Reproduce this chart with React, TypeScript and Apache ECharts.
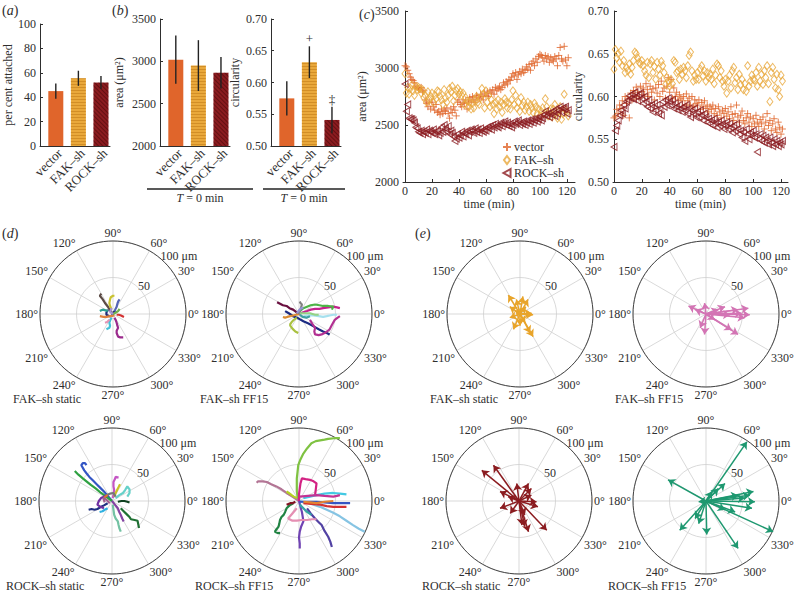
import React, { useEffect, useRef } from 'react';
import * as echarts from 'echarts';

// ---------- data ----------
const groups = ['vector', 'FAK\u2013sh', 'ROCK\u2013sh'];
const groupPos = [1, 2, 3];
const attachedMean = [45, 55.5, 52];
const attachedErr = [6.2, 6.2, 5.3];
const areaMean = [3020, 2950, 2865];
const areaErr = [285, 300, 185];
const circMean = [0.575, 0.632, 0.541];
const circErr = [0.027, 0.025, 0.021];
const circSig = ['', '+', '\u2021'];
const timeTicks = [0, 20, 40, 60, 80, 100, 120];

const times = [
  0, 1, 2, 3, 4, 5, 6, 7, 8, 9, 10, 11, 12, 13, 14, 15, 16, 17, 18, 19,
  20, 21, 22, 23, 24, 25, 26, 27, 28, 29, 30, 31, 32, 33, 34, 35, 36, 37, 38, 39,
  40, 41, 42, 43, 44, 45, 46, 47, 48, 49, 50, 51, 52, 53, 54, 55, 56, 57, 58, 59,
  60, 61, 62, 63, 64, 65, 66, 67, 68, 69, 70, 71, 72, 73, 74, 75, 76, 77, 78, 79,
  80, 81, 82, 83, 84, 85, 86, 87, 88, 89, 90, 91, 92, 93, 94, 95, 96, 97, 98, 99,
  100, 101, 102, 103, 104, 105, 106, 107, 108, 109, 110, 111, 112, 113, 114, 115, 116, 117, 118, 119,
  120, 121,
];

const vectorArea = [
  3020, 3010, 2980, 2950, 2920, 2900, 2890, 2870, 2840, 2830,
  2820, 2810, 2830, 2790, 2800, 2720, 2690, 2660, 2700, 2640,
  2700, 2660, 2630, 2680, 2610, 2620, 2590, 2640, 2600, 2630,
  2620, 2650, 2600, 2560, 2640, 2610, 2660, 2630, 2580, 2700,
  2720, 2680, 2660, 2700, 2690, 2720, 2640, 2700, 2740, 2710,
  2750, 2720, 2700, 2760, 2740, 2730, 2770, 2750, 2720, 2780,
  2760, 2790, 2750, 2800, 2780, 2810, 2770, 2830, 2800, 2820,
  2840, 2810, 2830, 2870, 2850, 2880, 2860, 2900, 2890, 2920,
  2950, 2930, 2960, 2900, 2940, 2970, 2950, 2990, 2960, 2980,
  3010, 2990, 3030, 2980, 3040, 3060, 3020, 3080, 3050, 3100,
  3120, 3110, 3090, 3060, 3110, 3080, 3100, 3050, 3090, 3070,
  3060, 3100, 3080, 3020, 3110, 3180, 3080, 3060, 3190, 3070,
  3020, 3090,
];
const fakArea = [
  2950, 2780, 2830, 2770, 2820, 2850, 2800, 2760, 2840, 2810,
  2830, 2820, 2780, 2810, 2740, 2760, 2700, 2790, 2720, 2750,
  2780, 2700, 2760, 2730, 2800, 2790, 2750, 2720, 2680, 2810,
  2740, 2700, 2760, 2820, 2790, 2840, 2710, 2760, 2800, 2820,
  2770, 2790, 2760, 2780, 2680, 2740, 2710, 2660, 2700, 2640,
  2690, 2650, 2720, 2750, 2700, 2680, 2740, 2820, 2770, 2650,
  2800, 2700, 2760, 2660, 2720, 2680, 2600, 2700, 2640, 2720,
  2660, 2700, 2610, 2680, 2730, 2700, 2650, 2690, 2640, 2720,
  2800, 2680, 2760, 2650, 2700, 2620, 2740, 2670, 2700, 2630,
  2660, 2700, 2620, 2680, 2650, 2610, 2690, 2660, 2600, 2640,
  2580, 2620, 2650, 2600, 2730, 2660, 2580, 2620, 2640, 2570,
  2640, 2680, 2600, 2560, 2620, 2660, 2550, 2600, 2770, 2630,
  2610, 2580,
];
const rockArea = [
  2860, 2620, 2680, 2560, 2550, 2550, 2540, 2520, 2480, 2470,
  2440, 2430, 2450, 2420, 2440, 2430, 2460, 2420, 2450, 2440,
  2430, 2460, 2420, 2440, 2450, 2410, 2430, 2480, 2440, 2500,
  2470, 2440, 2490, 2420, 2450, 2430, 2400, 2360, 2380, 2420,
  2390, 2410, 2440, 2400, 2430, 2420, 2450, 2410, 2440, 2460,
  2450, 2430, 2470, 2440, 2460, 2430, 2470, 2450, 2440, 2460,
  2450, 2480, 2470, 2490, 2460, 2500, 2480, 2510, 2490, 2480,
  2500, 2520, 2490, 2510, 2530, 2500, 2520, 2490, 2510, 2480,
  2500, 2530, 2510, 2520, 2540, 2500, 2520, 2510, 2530, 2500,
  2520, 2540, 2510, 2530, 2550, 2520, 2540, 2560, 2530, 2550,
  2570, 2540, 2560, 2590, 2620, 2580, 2600, 2570, 2610, 2590,
  2620, 2580, 2640, 2600, 2630, 2660, 2610, 2650, 2640, 2660,
  2600, 2630,
];
const vectorCirc = [
  0.575, 0.577, 0.585, 0.580, 0.590, 0.586, 0.595, 0.578, 0.600, 0.592,
  0.598, 0.575, 0.604, 0.596, 0.607, 0.600, 0.611, 0.605, 0.598, 0.612,
  0.606, 0.610, 0.602, 0.615, 0.608, 0.600, 0.612, 0.605, 0.609, 0.596,
  0.610, 0.604, 0.614, 0.600, 0.618, 0.606, 0.610, 0.598, 0.612, 0.622,
  0.605, 0.620, 0.598, 0.610, 0.600, 0.605, 0.596, 0.602, 0.598, 0.595,
  0.600, 0.590, 0.603, 0.595, 0.598, 0.590, 0.600, 0.588, 0.596, 0.592,
  0.590, 0.596, 0.585, 0.593, 0.588, 0.595, 0.586, 0.590, 0.582, 0.588,
  0.585, 0.590, 0.580, 0.586, 0.578, 0.588, 0.582, 0.575, 0.584, 0.580,
  0.586, 0.577, 0.582, 0.574, 0.588, 0.579, 0.572, 0.580, 0.590, 0.576,
  0.570, 0.578, 0.583, 0.572, 0.568, 0.575, 0.580, 0.570, 0.576, 0.565,
  0.574, 0.568, 0.578, 0.570, 0.565, 0.573, 0.568, 0.576, 0.562, 0.570,
  0.580, 0.566, 0.572, 0.560, 0.568, 0.574, 0.562, 0.558, 0.570, 0.564,
  0.556, 0.562,
];
const fakCirc = [
  0.632, 0.655, 0.645, 0.650, 0.640, 0.653, 0.636, 0.642, 0.628, 0.634,
  0.630, 0.638, 0.626, 0.634, 0.642, 0.652, 0.650, 0.645, 0.640, 0.638,
  0.642, 0.636, 0.630, 0.625, 0.640, 0.622, 0.638, 0.642, 0.628, 0.635,
  0.620, 0.640, 0.632, 0.625, 0.641, 0.636, 0.628, 0.614, 0.622, 0.618,
  0.612, 0.620, 0.615, 0.642, 0.640, 0.628, 0.630, 0.620, 0.632, 0.626,
  0.634, 0.630, 0.622, 0.636, 0.648, 0.652, 0.630, 0.618, 0.625, 0.620,
  0.628, 0.620, 0.632, 0.636, 0.624, 0.630, 0.618, 0.628, 0.622, 0.626,
  0.620, 0.632, 0.615, 0.625, 0.638, 0.636, 0.622, 0.630, 0.618, 0.612,
  0.620, 0.604, 0.618, 0.625, 0.610, 0.630, 0.634, 0.616, 0.622, 0.608,
  0.626, 0.614, 0.620, 0.608, 0.615, 0.606, 0.636, 0.612, 0.618, 0.625,
  0.620, 0.619, 0.628, 0.612, 0.634, 0.618, 0.626, 0.614, 0.630, 0.622,
  0.636, 0.615, 0.594, 0.628, 0.634, 0.620, 0.610, 0.626, 0.608, 0.600,
  0.625, 0.618,
];
const rockCirc = [
  0.541, 0.560, 0.566, 0.572, 0.578, 0.584, 0.580, 0.590, 0.586, 0.594,
  0.596, 0.601, 0.598, 0.603, 0.597, 0.605, 0.600, 0.595, 0.602, 0.604,
  0.598, 0.592, 0.600, 0.594, 0.588, 0.596, 0.586, 0.590, 0.582, 0.592,
  0.584, 0.590, 0.580, 0.586, 0.578, 0.594, 0.588, 0.596, 0.590, 0.598,
  0.594, 0.590, 0.596, 0.586, 0.592, 0.588, 0.584, 0.590, 0.586, 0.582,
  0.588, 0.584, 0.590, 0.580, 0.586, 0.576, 0.584, 0.580, 0.586, 0.576,
  0.582, 0.576, 0.584, 0.578, 0.572, 0.580, 0.576, 0.570, 0.574, 0.568,
  0.572, 0.566, 0.574, 0.570, 0.564, 0.570, 0.566, 0.572, 0.568, 0.562,
  0.566, 0.570, 0.562, 0.568, 0.564, 0.558, 0.566, 0.560, 0.568, 0.562,
  0.556, 0.560, 0.552, 0.558, 0.548, 0.562, 0.556, 0.550, 0.558, 0.554,
  0.560, 0.552, 0.556, 0.535, 0.550, 0.556, 0.548, 0.554, 0.546, 0.552,
  0.548, 0.544, 0.552, 0.546, 0.542, 0.550, 0.544, 0.548, 0.542, 0.546,
  0.544, 0.548,
];

// trajectories (x, y in µm)
const fakStaticTracks = [
  [[0, 0], [-4, 5], [-7, 10], [-11, 15], [-14, 20], [-18, 25], [-16, 28]],
  [[-2, 6], [-4, 11], [-5, 15], [-4, 20], [-3, 23], [0, 25], [2, 25]],
  [[2, 1], [3, 6], [5, 10], [6, 14], [7, 17], [9, 20]],
  [[-7, 6], [-9, 2], [-9, -1], [-5, -3], [-2, -3], [2, 4]],
  [[2, -5], [4, -9], [5, -12], [6, -16], [7, -19], [5, -23], [5, -26], [7, -31], [10, -32], [14, -32]],
  [[-2, -5], [-4, -9], [-5, -12], [-4, -16], [-5, -19], [-7, -20], [-9, -21]],
  [[-18, -3], [-13, -4], [-9, -4], [-4, -3], [2, -2]],
  [[-18, 4], [-16, 5], [-14, 6], [-10, 5], [-7, 4]],
  [[5, -1], [8, -1], [11, -2], [13, -3], [15, -4]],
  [[-5, -8], [-7, -10], [-8, -11], [-11, -12]],
  [[0, 0], [4, 2], [7, 4], [9, 7]],
  [[0, 0], [-4, 3], [-2, 8]],
];
const fakFF15Tracks = [
  [[0, 0], [-4, 3], [-8, 6], [-13, 8], [-17, 11], [-22, 12], [-26, 14], [-30, 16]],
  [[0, 0], [5, 2], [11, 4], [16, 6], [22, 7], [28, 7], [33, 8], [40, 9], [47, 10], [52, 9], [56, 8]],
  [[1, 4], [6, 8], [11, 10], [16, 12], [22, 13], [28, 12], [33, 11], [40, 11], [47, 10], [45, 6]],
  [[-19, 4], [-14, 1], [-8, -3], [-1, -6], [6, -10], [13, -13], [20, -17], [27, -21], [33, -24], [38, -26], [42, -28]],
  [[15, -8], [18, -13], [22, -19], [21, -24], [22, -28], [27, -29], [31, -28], [37, -25], [42, -21], [45, -15], [49, -8], [53, -5], [56, -3]],
  [[6, -3], [13, -2], [20, -2], [27, -3], [33, -4], [38, -3], [42, -2], [47, -1], [52, -1]],
  [[0, 0], [-4, -1], [-8, -2], [-12, -3], [-16, -4], [-19, -5], [-22, -4]],
  [[-3, -5], [-7, -8], [-10, -11], [-12, -14], [-12, -16], [-9, -20], [-5, -24], [-3, -25], [-1, -26]],
  [[1, -1], [5, -4], [10, -5], [15, -3]],
  [[0, 0], [2, 6], [4, 13], [2, 15], [1, 17]],
  [[1, 1], [8, 1], [15, 1], [22, -1], [27, -1]],
  [[-3, 1], [0, 5], [3, 8], [6, 8]],
];
const rockStaticTracks = [
  [[0, 0], [-5, 6], [-11, 13], [-16, 18], [-20, 22], [-26, 28], [-31, 33], [-35, 38], [-38, 42], [-42, 49], [-40, 52], [-37, 52], [-35, 49]],
  [[0, 0], [-8, 6], [-15, 11], [-22, 17], [-29, 22], [-35, 27], [-40, 31], [-46, 36], [-51, 41]],
  [[1, 4], [2, 9], [3, 15], [2, 20], [2, 26], [4, 30], [5, 33], [9, 32]],
  [[3, 6], [5, 11], [7, 15], [9, 19], [11, 23]],
  [[5, 4], [10, 8], [15, 11], [18, 15], [21, 20], [24, 16], [24, 11], [21, 6]],
  [[12, -10], [16, -14], [21, -19], [24, -22], [26, -25], [31, -26], [35, -27], [36, -32], [37, -37]],
  [[1, -5], [2, -12], [3, -19], [5, -24], [8, -28], [9, -33], [10, -37], [12, -42]],
  [[-6, -3], [-11, -6], [-15, -8], [-20, -11], [-24, -12], [-28, -11], [-32, -12]],
  [[0, 0], [4, -5], [8, -10], [10, -15], [12, -19], [14, -24], [16, -28]],
  [[-6, 8], [-11, 6], [-15, 4], [-18, 0], [-20, -5], [-16, -8], [-11, -10]],
  [[-8, 8], [-3, 10], [2, 11], [5, 6]],
  [[8, -1], [13, 0], [17, 0], [21, -1], [24, -2]],
  [[-6, -10], [-10, -12], [-13, -14], [-17, -15]],
  [[-6, 8], [-9, 6], [-11, 4]],
  [[-3, -3], [-8, 2], [-12, 4], [-10, -2]],
];
const rockFF15Tracks = [
  [[0, 0], [-2, 6], [-3, 13], [-3, 22], [-3, 31], [-2, 40], [-1, 49], [2, 57], [6, 65], [11, 72], [17, 79], [23, 82], [29, 83], [35, 84], [40, 85], [48, 86], [56, 86]],
  [[0, 0], [10, -2], [20, -5], [29, -8], [38, -12], [47, -16], [56, -21], [65, -27], [74, -33], [82, -38], [90, -42]],
  [[0, 0], [-9, 6], [-17, 11], [-24, 16], [-31, 20], [-38, 23], [-44, 26], [-50, 27], [-56, 27], [-58, 25]],
  [[-8, -3], [-13, -6], [-17, -10], [-19, -15], [-21, -19], [-24, -22], [-26, -26], [-27, -31], [-28, -35], [-31, -39], [-33, -42], [-29, -44], [-26, -44]],
  [[0, 0], [2, -8], [4, -15], [5, -21], [6, -28], [3, -35], [1, -42], [0, -50], [1, -58], [1, -65]],
  [[11, -10], [16, -17], [22, -24], [27, -29], [31, -33], [35, -41], [40, -49], [43, -56], [45, -63]],
  [[0, 0], [0, 9], [1, 17], [2, 24], [4, 31], [9, 30], [15, 29], [20, 27], [24, 24], [23, 16], [22, 8]],
  [[6, -3], [17, -4], [29, -5], [38, -7], [47, -8], [56, -8], [65, -8]],
  [[1, -1], [12, -1], [24, -1], [35, -2], [47, -3], [58, -3], [70, -3]],
  [[-3, -10], [-9, -17], [-15, -24], [-9, -27], [-3, -27], [4, -26], [11, -26], [18, -25], [24, -25]],
  [[1, -5], [6, -10], [11, -15], [17, -19]],
  [[-3, 4], [-7, 6], [-10, 8], [-14, 11], [-17, 13]],
  [[-5, -1], [-9, -3], [-12, -3], [-17, -5]],
  [[6, 4], [15, 6], [24, 8], [35, 10], [47, 11], [56, 10], [65, 9]],
  [[6, -1], [15, -2], [24, -3], [35, -1], [47, 0]],
  [[1, 6], [12, 7], [24, 8], [35, 7], [47, 6], [52, 7], [56, 8]],
];

// net displacement arrows (x, y in µm)
const fakStaticArrows = [
  [-16, 26], [4, 24], [11, 20], [16, 1], [18, -31], [14, -26], [-14, -5], [-9, -21],
  [0, -16], [-14, 10], [8, 10], [-7, 5], [18, -1], [-5, 20], [7, -12],
];
const fakFF15Arrows = [
  [-24, 11], [-2, 15], [-2, -28], [-8, -19], [44, -28], [35, -22], [58, 8], [60, -1],
  [53, -5], [44, 6], [33, -1], [26, 10], [17, 6], [-15, 6], [49, 1], [12, -8],
];
const rockStaticArrows = [
  [-51, 42], [-35, 49], [-26, 13], [13, 24], [17, 8], [24, -1], [13, -42], [8, -35],
  [38, -40], [-3, 24], [-15, 6], [-26, -10], [-12, -17], [26, -8], [8, -19], [17, 17], [4, -33],
];
const rockFF15Arrows = [
  [56, 81], [92, -42], [-52, 29], [-36, -40], [44, -65], [1, -46], [-10, -31], [65, 13],
  [67, -1], [63, -10], [53, 4], [44, 8], [26, 24], [17, 17], [40, -15], [26, -12],
  [-10, -1], [8, 13], [-15, -24], [60, 8],
];

const captions = [
  'FAK\u2013sh static', 'FAK\u2013sh FF15', 'ROCK\u2013sh static', 'ROCK\u2013sh FF15',
  'FAK\u2013sh static', 'FAK\u2013sh FF15', 'ROCK\u2013sh static', 'ROCK\u2013sh FF15',
];
const angleLabelSuffix = '\u00b0';

// ---------- styles / layout ----------
const FF = '"Liberation Serif", "DejaVu Serif", serif';
const TXT = '#2e2e2e';
const C_VEC = '#e0652b';
const C_FAK = '#e9a83b';
const C_ROCK = '#8b1c20';
const C_FAK_ARROW = '#e8a42a';
const C_PINK = '#d374b4';
const C_GREEN = '#1e9870';

const trackColorSets = [
  ['#5b4a44', '#c9c232', '#5565b5', '#1f2a7a', '#9b2a8c', '#43c1d8', '#e0823f', '#2fa08f', '#d33232', '#e394b4', '#6fb24f', '#a593d3'],
  ['#6a1040', '#c4228c', '#4db346', '#1b2b82', '#b23092', '#a6e0ee', '#d98b33', '#a9c140', '#3ea1a1', '#808080', '#94d385', '#9393d3'],
  ['#3355c4', '#2fa142', '#c455c4', '#c9c124', '#66d1c9', '#1f7033', '#73c2a3', '#203182', '#8343a3', '#7030a2', '#767676', '#0f4221', '#31b1e0', '#e3712f', '#a06090'],
  ['#7fc242', '#86c4e3', '#b37595', '#218343', '#7043b3', '#5242a3', '#d32283', '#d33232', '#3355c4', '#e58fb3', '#33a3a3', '#b3d322', '#831222', '#43c9e3', '#e38333', '#c33393'],
];

const R = 73;
const polarLayout = [
  { cx: 113, cy: 314, capX: 13 },
  { cx: 299, cy: 314, capX: 200 },
  { cx: 112, cy: 501, capX: 6 },
  { cx: 299, cy: 501, capX: 195 },
  { cx: 520, cy: 314, capX: 430 },
  { cx: 706, cy: 314, capX: 615 },
  { cx: 519, cy: 501, capX: 422 },
  { cx: 706, cy: 501, capX: 608 },
];

const textStyle = { fontFamily: FF, fontSize: 12, color: TXT, fontWeight: 'normal' as const };

const barStyles = [
  { color: C_VEC },
  {
    color: C_FAK,
    decal: { symbol: 'rect', symbolSize: 1, color: 'rgba(190,120,20,0.55)', dashArrayX: [1, 0], dashArrayY: [1, 2], rotation: 0 },
  },
  {
    color: C_ROCK,
    decal: { symbol: 'rect', symbolSize: 1, color: 'rgba(50,0,0,0.45)', dashArrayX: [1, 0], dashArrayY: [1, 2], rotation: Math.PI / 4 },
  },
];

function barXAxis(gridIndex: number) {
  return {
    gridIndex,
    type: 'value',
    min: 0.3,
    max: 3.4,
    axisLine: { show: true, lineStyle: { color: TXT, width: 1 } },
    splitLine: { show: false },
    axisTick: { show: false },
    axisLabel: { show: false },
  };
}

function valYAxis(gridIndex: number, min: number, max: number, interval: number, name: string, gap: number, digits: number) {
  return {
    gridIndex,
    type: 'value',
    min,
    max,
    interval,
    name,
    nameLocation: 'middle',
    nameGap: gap,
    nameTextStyle: { ...textStyle },
    axisLine: { show: true, lineStyle: { color: TXT, width: 1 } },
    axisTick: { show: true, inside: true, length: 3, lineStyle: { color: TXT } },
    splitLine: { show: false },
    axisLabel: { ...textStyle, margin: 4, formatter: (v: number) => v.toFixed(digits) },
  };
}

function timeXAxis(gridIndex: number, min: number, max: number) {
  return {
    gridIndex,
    type: 'value',
    min,
    max,
    name: 'time (min)',
    nameLocation: 'middle',
    nameGap: 13,
    nameTextStyle: { ...textStyle },
    axisLine: { show: true, lineStyle: { color: TXT, width: 1 } },
    splitLine: { show: false },
    axisTick: { show: true, inside: true, length: 3, customValues: timeTicks, lineStyle: { color: TXT } },
    axisLabel: { ...textStyle, margin: 3, customValues: timeTicks },
  };
}

function barSeries(axis: number, mean: number[]) {
  return {
    type: 'bar',
    xAxisIndex: axis,
    yAxisIndex: axis,
    barWidth: 15,
    silent: true,
    data: groupPos.map((p, i) => ({ value: [p, mean[i]], itemStyle: barStyles[i] })),
  };
}

// error bars + significance marks + rotated category labels
function errSeries(axis: number, yMin: number, mean: number[], err: number[], sig?: string[]) {
  return {
    type: 'custom',
    xAxisIndex: axis,
    yAxisIndex: axis,
    silent: true,
    clip: false,
    z: 5,
    encode: { x: 0, y: 1 },
    data: groupPos.map((p, i) => [p, mean[i], err[i], i]),
    renderItem: (params: any, api: any) => {
      const x = api.value(0);
      const m = api.value(1);
      const e = api.value(2);
      const idx = api.value(3);
      const a = api.coord([x, m + e]);
      const b = api.coord([x, m - e]);
      const base = api.coord([x, yMin]);
      const children: any[] = [
        { type: 'line', shape: { x1: a[0], y1: a[1], x2: b[0], y2: b[1] }, style: { stroke: '#222', lineWidth: 1.4 } },
        {
          type: 'group',
          x: base[0] + 4,
          y: base[1] + 5,
          rotation: Math.PI / 4,
          children: [
            {
              type: 'text',
              x: 0,
              y: 0,
              style: { text: groups[idx], align: 'right', verticalAlign: 'middle', fill: TXT, font: `13px ${FF}` },
            },
          ],
        },
      ];
      if (sig && sig[idx]) {
        children.push({
          type: 'text',
          x: a[0],
          y: a[1] - 1,
          style: { text: sig[idx], align: 'center', verticalAlign: 'bottom', fill: TXT, font: `13px ${FF}` },
        });
      }
      return { type: 'group', children };
    },
  };
}

const markerDefs = [
  { symbol: 'path://M5,0L5,10M0,5L10,5', size: 7, color: C_VEC },
  { symbol: 'path://M3,0L6,4L3,8L0,4Z', size: [6, 8], color: C_FAK },
  { symbol: 'path://M8,0L0,4.5L8,9Z', size: [6, 7], color: C_ROCK },
];

function scatterSeries(axis: number, gi: number, values: number[]) {
  const m = markerDefs[gi];
  return {
    type: 'scatter',
    name: groups[gi],
    xAxisIndex: axis,
    yAxisIndex: axis,
    symbol: m.symbol,
    symbolSize: m.size,
    silent: true,
    itemStyle: { color: 'rgba(0,0,0,0)', borderColor: m.color, borderWidth: 1 },
    data: times.map((t, i) => [t, values[i]]),
  };
}

const App: React.FC = () => {
  const ref = useRef<HTMLDivElement>(null);

  useEffect(() => {
    if (!ref.current) return;
    const chart = echarts.init(ref.current, undefined, { renderer: 'svg' });

    const grids: any[] = [
      { left: 40, top: 24, width: 70, height: 122 },
      { left: 160, top: 19, width: 70, height: 127 },
      { left: 271, top: 19, width: 70, height: 127 },
      { left: 403, top: 11, width: 172, height: 171 },
      { left: 613, top: 11, width: 175, height: 171 },
    ];
    const xAxes: any[] = [
      barXAxis(0),
      barXAxis(1),
      barXAxis(2),
      timeXAxis(3, -1.5, 126),
      timeXAxis(4, -0.7, 125),
    ];
    const yAxes: any[] = [
      valYAxis(0, 0, 100, 20, 'per cent attached', 22, 0),
      valYAxis(1, 2000, 3500, 500, 'area (\u03bcm\u00b2)', 35, 0),
      valYAxis(2, 0.5, 0.7, 0.05, 'circularity', 30, 2),
      valYAxis(3, 2000, 3500, 500, 'area (\u03bcm\u00b2)', 35, 0),
      valYAxis(4, 0.5, 0.7, 0.05, 'circularity', 28, 2),
    ];

    polarLayout.forEach((p, k) => {
      grids.push({ left: p.cx - R, top: p.cy - R, width: 2 * R, height: 2 * R });
      xAxes.push({ gridIndex: 5 + k, type: 'value', min: -100, max: 100, show: false });
      yAxes.push({ gridIndex: 5 + k, type: 'value', min: -100, max: 100, show: false });
    });

    const series: any[] = [
      barSeries(0, attachedMean),
      errSeries(0, 0, attachedMean, attachedErr),
      barSeries(1, areaMean),
      errSeries(1, 2000, areaMean, areaErr),
      barSeries(2, circMean),
      errSeries(2, 0.5, circMean, circErr, circSig),
      scatterSeries(3, 0, vectorArea),
      scatterSeries(3, 1, fakArea),
      scatterSeries(3, 2, rockArea),
      scatterSeries(4, 0, vectorCirc),
      scatterSeries(4, 1, fakCirc),
      scatterSeries(4, 2, rockCirc),
    ];

    const trackSets = [fakStaticTracks, fakFF15Tracks, rockStaticTracks, rockFF15Tracks];
    trackSets.forEach((tracks, k) => {
      tracks.forEach((tr, j) => {
        series.push({
          type: 'line',
          xAxisIndex: 5 + k,
          yAxisIndex: 5 + k,
          data: tr,
          symbol: 'none',
          showSymbol: false,
          silent: true,
          clip: false,
          z: 3,
          lineStyle: { color: trackColorSets[k][j % trackColorSets[k].length], width: 2.2 },
        });
      });
    });

    const arrowSets = [fakStaticArrows, fakFF15Arrows, rockStaticArrows, rockFF15Arrows];
    const arrowColors = [C_FAK_ARROW, C_PINK, C_ROCK, C_GREEN];
    arrowSets.forEach((ends, k) => {
      series.push({
        type: 'lines',
        coordinateSystem: 'cartesian2d',
        xAxisIndex: 9 + k,
        yAxisIndex: 9 + k,
        silent: true,
        z: 3,
        symbol: ['none', 'arrow'],
        symbolSize: 7,
        lineStyle: { color: arrowColors[k], width: 1.5, opacity: 1, curveness: 0 },
        data: ends.map((e) => ({ coords: [[0, 0], e] })),
      });
    });

    const polar = polarLayout.map((p) => ({ center: [p.cx, p.cy], radius: R }));
    const angleAxis = polarLayout.map((p, i) => ({
      polarIndex: i,
      type: 'value',
      min: 0,
      max: 360,
      interval: 30,
      startAngle: 0,
      clockwise: false,
      axisLine: { show: true, lineStyle: { color: '#444', width: 1 } },
      axisTick: { show: false },
      splitLine: { show: true, lineStyle: { color: '#cfcfcf', width: 0.8 } },
      axisLabel: {
        ...textStyle,
        margin: 2,
        formatter: (v: number) => (v >= 360 ? '' : `${v}${angleLabelSuffix}`),
      },
    }));
    const radiusAxis = polarLayout.map((p, i) => ({
      polarIndex: i,
      type: 'value',
      min: 0,
      max: 100,
      interval: 50,
      axisLine: { show: false },
      axisTick: { show: false },
      axisLabel: { show: false },
      splitLine: { show: true, lineStyle: { color: '#cfcfcf', width: 0.8 } },
    }));

    const graphic: any[] = [];
    const panelLabel = (letter: string, x: number, y: number) => ({
      type: 'text',
      left: x,
      top: y,
      silent: true,
      style: {
        text: `({i|${letter}})`,
        font: `14px ${FF}`,
        fill: TXT,
        rich: { i: { fontStyle: 'italic', fontFamily: FF, fontSize: 14, fill: TXT } },
      },
    });
    graphic.push(panelLabel('a', 2, 3));
    graphic.push(panelLabel('b', 112, 3));
    graphic.push(panelLabel('c', 359, 7));
    graphic.push(panelLabel('d', 2, 226));
    graphic.push(panelLabel('e', 415, 226));

    const underline = (x1: number, x2: number) => [
      { type: 'line', silent: true, shape: { x1, y1: 189, x2, y2: 189 }, style: { stroke: '#222', lineWidth: 1.5 } },
      {
        type: 'text',
        silent: true,
        x: (x1 + x2) / 2,
        y: 198,
        style: {
          text: '{i|T} = 0 min',
          align: 'center',
          verticalAlign: 'middle',
          font: `12px ${FF}`,
          fill: TXT,
          rich: { i: { fontStyle: 'italic', fontFamily: FF, fontSize: 12, fill: TXT } },
        },
      },
    ];
    graphic.push(...underline(147, 253));
    graphic.push(...underline(263, 345));

    polarLayout.forEach((p, i) => {
      graphic.push({
        type: 'text', silent: true, x: p.cx + 31, y: p.cy - 28,
        style: { text: '50', align: 'center', verticalAlign: 'middle', font: `12px ${FF}`, fill: TXT },
      });
      graphic.push({
        type: 'text', silent: true, x: p.cx + 66, y: p.cy - 58,
        style: { text: '100 \u03bcm', align: 'center', verticalAlign: 'middle', font: `12px ${FF}`, fill: TXT },
      });
      graphic.push({
        type: 'text', silent: true, x: p.capX, y: p.cy + 85,
        style: { text: captions[i], align: 'left', verticalAlign: 'middle', font: `12px ${FF}`, fill: TXT },
      });
    });

    chart.setOption({
      animation: false,
      backgroundColor: '#fff',
      textStyle: { fontFamily: FF },
      grid: grids,
      xAxis: xAxes,
      yAxis: yAxes,
      polar,
      angleAxis,
      radiusAxis,
      legend: {
        data: groups,
        left: 502,
        top: 141,
        orient: 'vertical',
        itemGap: 1,
        itemWidth: 8,
        itemHeight: 8,
        padding: 0,
        selectedMode: false,
        textStyle: { ...textStyle, fontSize: 12, padding: [0, 0, 0, -2] },
      },
      series,
      graphic,
    });

    return () => chart.dispose();
  }, []);

  return <div ref={ref} style={{ position: 'fixed', left: 0, top: 0, width: 795, height: 593, background: '#fff' }} />;
};

export default App;
